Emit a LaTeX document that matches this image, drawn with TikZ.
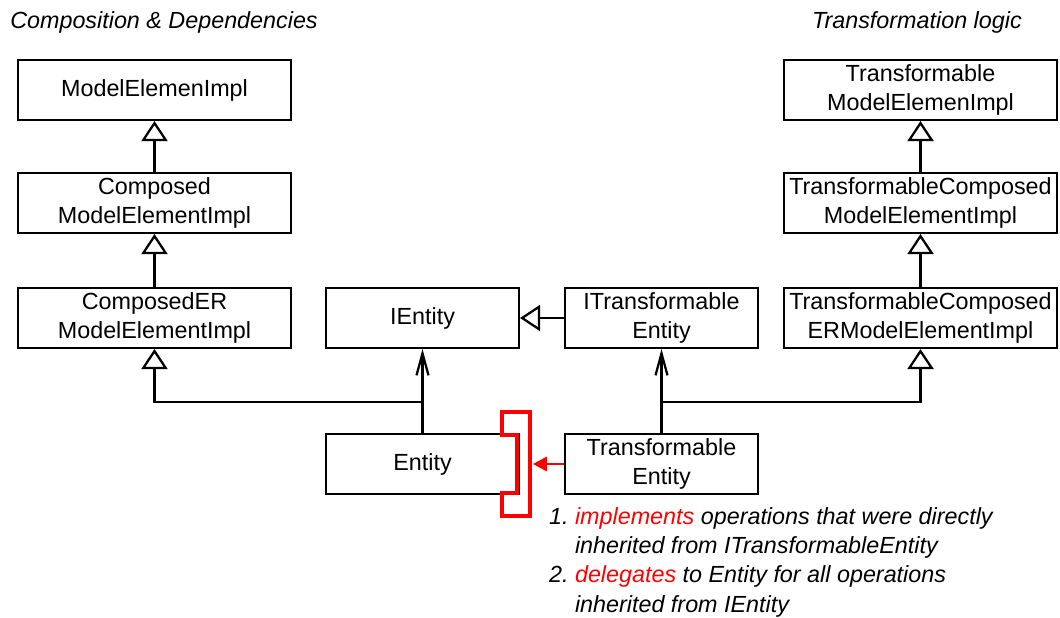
\documentclass[tikz,border=0pt]{standalone}
\usepackage{fontspec}
\setmainfont{Liberation Sans}
\usepackage{tikz}
\usetikzlibrary{arrows.meta,calc,positioning}
\usepackage{xcolor}
\definecolor{DiagramInk}{HTML}{000000}
\definecolor{DiagramRed}{HTML}{FF0000}
\newcommand{\boxfont}{\fontsize{16.6}{20.8}\selectfont}
\tikzset{
  umlclass/.style={draw=DiagramInk,line width=1.5pt,fill=white,align=center,minimum height=15mm,inner sep=2pt,font=\boxfont},
  wideclass/.style={umlclass,minimum width=68.25mm},
  narrowclass/.style={umlclass,minimum width=48.25mm},
  inheritarrow/.style={-{Triangle[open,length=5mm,width=6.5mm,fill=white]},line width=1.6pt,draw=DiagramInk},
  realizearrow/.style={-{Straight Barb[length=5.5mm,width=3mm]},line width=1.6pt,draw=DiagramInk},
  delegatearrow/.style={-{Triangle[length=3.5mm,width=3.5mm]},line width=2pt,draw=DiagramRed},
  bracketline/.style={draw=DiagramRed,line width=2.8pt},
  heading/.style={inner sep=0pt,font=\boxfont\itshape},
  note/.style={inner sep=0pt,align=left,font=\boxfont\itshape}
}

\begin{document}
\begin{tikzpicture}
  \useasboundingbox (0,0) rectangle (26.5,-15.45);

  % headings
  \node[heading,anchor=base west] (leftTitle) at (0.25,-0.72) {Composition \& Dependencies};
  \node[heading,anchor=base east] (rightTitle) at (25.55,-0.72) {Transformation logic};

  % composition side
  \node[wideclass] (modelElem) at (3.8625,-2.25) {ModelElemenImpl};
  \node[wideclass] (composedElem) at (3.8625,-5.075) {Composed\\ModelElementImpl};
  \node[wideclass] (composedER) at (3.8625,-7.95) {ComposedER\\ModelElementImpl};
  \node[narrowclass] (iEntity) at (10.5625,-7.95) {IEntity};
  \node[narrowclass] (entity) at (10.5625,-11.6) {Entity};

  % transformation side
  \node[wideclass] (tModelElem) at (23.0125,-2.25) {Transformable\\ModelElemenImpl};
  \node[wideclass] (tComposedElem) at (23.0125,-5.075) {TransformableComposed\\ModelElementImpl};
  \node[wideclass] (tComposedER) at (23.0125,-7.95) {TransformableComposed\\ERModelElementImpl};
  \node[narrowclass] (iTransEntity) at (16.5375,-7.95) {ITransformable\\Entity};
  \node[narrowclass] (tEntity) at (16.5375,-11.6) {Transformable\\Entity};

  \coordinate (entityJoin) at ($(entity.north)+(0,0.775)$);
  \coordinate (tEntityJoin) at ($(tEntity.north)+(0,0.775)$);

  % generalisations
  \draw[inheritarrow] (composedElem) -- (modelElem);
  \draw[inheritarrow] (composedER) -- (composedElem);
  \draw[inheritarrow] (entityJoin) -| (composedER);
  \draw[inheritarrow] (iTransEntity) -- (iEntity);
  \draw[inheritarrow] (tComposedElem) -- (tModelElem);
  \draw[inheritarrow] (tComposedER) -- (tComposedElem);
  \draw[inheritarrow] (tEntityJoin) -| (tComposedER);

  % realisations
  \draw[realizearrow] (entity) -- (iEntity);
  \draw[realizearrow] (tEntity) -- (iTransEntity);

  % delegation bracket
  \draw[bracketline] (12.54,-10.29) -| (13.26,-12.91) -| (12.54,-12.33)
    -- (12.925,-12.33) -- (12.925,-10.87) -- (12.54,-10.87) -- cycle;
  \coordinate (bracketTip) at (13.32,-11.6);
  \draw[delegatearrow] (tEntity) -- (bracketTip);

  % notes
  \node[note,anchor=north west] (notes) at (13.72,-12.59) {%
    \begin{tabular}{@{}l@{\ }l@{}}
      1. & \textcolor{DiagramRed}{implements} operations that were directly\\
         & inherited from ITransformableEntity\\
      2. & \textcolor{DiagramRed}{delegates} to Entity for all operations\\
         & inherited from IEntity
    \end{tabular}};
\end{tikzpicture}
\end{document}
